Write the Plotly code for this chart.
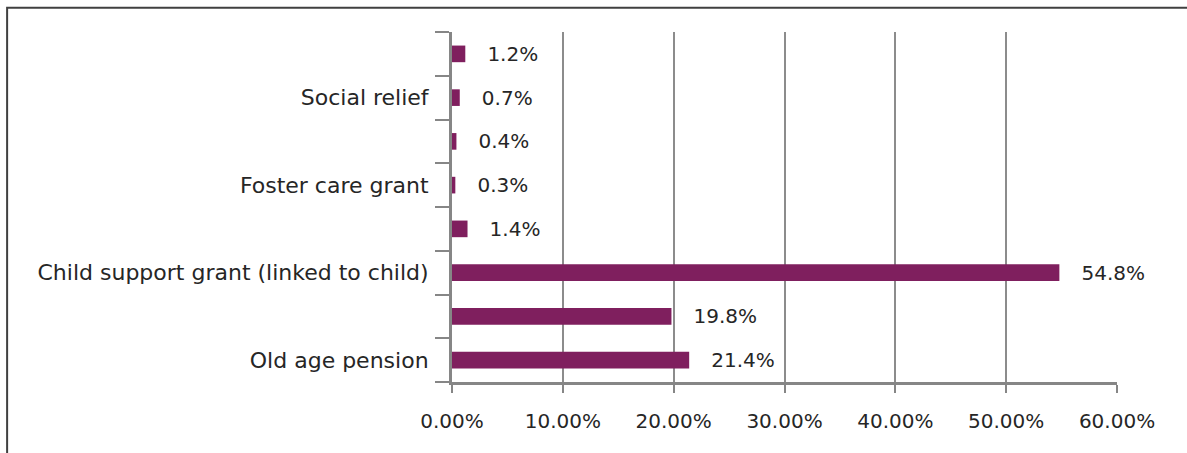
import plotly.graph_objects as go

# bottom to top
categories = ["Old age pension", "", "Child support grant (linked to child)", "",
              "Foster care grant", "", "Social relief", ""]
values = [0.214, 0.198, 0.548, 0.014, 0.003, 0.004, 0.007, 0.012]
x_ticks = [0, 0.1, 0.2, 0.3, 0.4, 0.5, 0.6]

positions = list(range(len(categories)))
boundaries = [p - 0.5 for p in positions] + [positions[-1] + 0.5]

FONT = "DejaVu Sans"
TXT = "#262626"
GRID = "#8c8c8c"

fig = go.Figure(go.Bar(
    x=values, y=positions, orientation="h",
    marker=dict(color="#7f1f5e", line=dict(width=0)),
    width=0.38,
    texttemplate="\u00a0\u00a0\u00a0%{x:.1%}",
    textposition="outside",
    constraintext="none",
    textfont=dict(family=FONT, size=20, color=TXT),
    cliponaxis=False,
))

fig.update_layout(
    width=1187, height=453,
    margin=dict(l=452, r=70, t=32, b=71),
    paper_bgcolor="white", plot_bgcolor="white",
    showlegend=False,
    font=dict(family=FONT, size=20, color=TXT),
    xaxis=dict(
        range=[0, 0.6], tickvals=x_ticks, tickformat=".2%",
        showgrid=True, gridcolor=GRID, gridwidth=2,
        showline=True, linecolor="#868686", linewidth=3,
        ticks="outside", ticklen=8, tickwidth=2, tickcolor="#868686",
        ticklabelstandoff=11, zeroline=False,
        tickfont=dict(family=FONT, size=20, color=TXT),
    ),
    yaxis=dict(
        range=[-0.5, len(categories) - 0.5],
        tickvals=positions, ticktext=categories,
        ticks="", showgrid=False, zeroline=False,
        showline=True, linecolor="#868686", linewidth=3,
        ticklabelstandoff=16,
        tickfont=dict(family=FONT, size=22, color=TXT),
        minor=dict(tickvals=boundaries, ticks="outside", ticklen=14,
                   tickwidth=2, tickcolor="#868686", showgrid=False),
    ),
    shapes=[dict(type="rect", xref="paper", yref="paper",
                 x0=-0.669, x1=1.2, y0=-0.4, y1=1.069,
                 line=dict(color="#404040", width=2), layer="below")],
)

fig.write_html("out.html")
